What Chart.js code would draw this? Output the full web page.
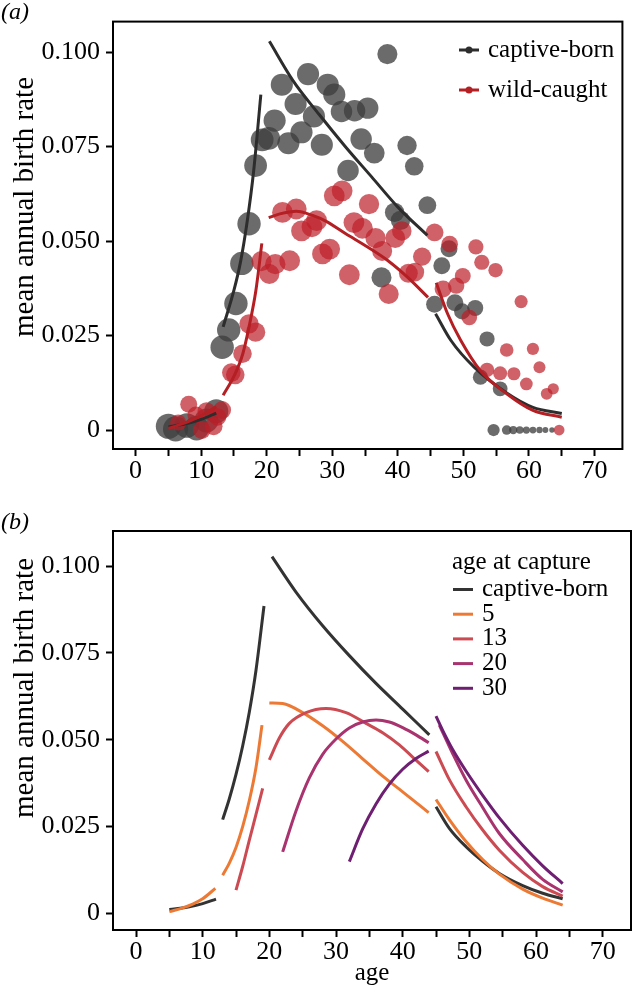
<!DOCTYPE html>
<html>
<head>
<meta charset="utf-8">
<script src="https://cdn.jsdelivr.net/npm/chart.js@4.4.1/dist/chart.umd.min.js"></script>
<style>
  html, body { margin: 0; padding: 0; background: #fff; }
  body { width: 635px; height: 991px; position: relative; overflow: hidden; }
  .panel { position: absolute; left: 0; width: 635px; }
  #boxA { top: 0; height: 495px; }
  #boxB { top: 495px; height: 496px; }
</style>
</head>
<body>
<div class="panel" id="boxA"><canvas id="chartA"></canvas></div>
<div class="panel" id="boxB"><canvas id="chartB"></canvas></div>
<script>
// ---- axes ----
const ageTicks = [0, 5, 10, 15, 20, 25, 30, 35, 40, 45, 50, 55, 60, 65, 70];
const ageLabels = ['0', '', '10', '', '20', '', '30', '', '40', '', '50', '', '60', '', '70'];
const rateTicks = [0, 0.025, 0.05, 0.075, 0.1];
const rateLabels = ['0', '0.025', '0.050', '0.075', '0.100'];

// ---- panel (a): observed rates, bubble size = number of females ----
const capAge = [5.0, 6.1, 7.8, 9.3, 10.8, 12.3,
  13.2, 14.2, 15.3, 16.2, 17.3, 18.3, 19.3, 20.3,
  21.2, 22.3, 23.3, 24.4, 25.3, 26.3, 27.2, 28.4, 29.3, 30.3,
  31.4, 32.4, 33.4, 34.4, 35.4, 36.4,
  37.5, 38.4, 39.5, 40.4, 41.4, 42.5,
  44.5, 45.6, 46.7, 47.8, 48.7, 49.8, 51.8,
  52.6, 53.6, 55.6,
  54.6, 56.6, 57.6, 58.6, 59.6, 60.6, 61.6, 62.5, 63.5];
const capRate = [0.0010, 0.0003, 0.0012, 0.0005, 0.0025, 0.0050,
  0.0219, 0.0265, 0.0335, 0.0441, 0.0546, 0.0700, 0.0768, 0.0772,
  0.0819, 0.0914, 0.0759, 0.0863, 0.0788, 0.0942, 0.0830, 0.0755, 0.0914, 0.0888,
  0.0843, 0.0687, 0.0845, 0.0770, 0.0852, 0.0733,
  0.0404, 0.0995, 0.0576, 0.0555, 0.0753, 0.0698,
  0.0595, 0.0333, 0.0435, 0.0480, 0.0337, 0.0314, 0.0323,
  0.0140, 0.0241, 0.0109,
  0, 0, 0, 0, 0, 0, 0, 0, 0];
const capN = [110, 110, 105, 105, 100, 100,
  95, 95, 95, 95, 95, 90, 90, 90,
  85, 85, 85, 85, 85, 85, 85, 85, 85, 85,
  80, 80, 80, 80, 80, 75,
  70, 70, 65, 65, 65, 60,
  55, 50, 50, 50, 50, 45, 45,
  40, 40, 38,
  26, 16, 12, 10, 9, 8, 7, 6, 5];

const wildAge = [6.5, 8.1, 9.2, 10.1, 10.8, 11.9, 12.5, 13.2,
  14.6, 15.2, 16.3, 17.3, 18.3,
  19.2, 20.4, 21.3, 22.4, 23.5, 24.5, 25.3, 26.9, 27.6, 28.5,
  29.6, 30.3, 31.5, 32.6, 33.3, 34.6, 35.6, 36.6, 37.6, 38.6,
  39.6, 40.6, 41.6, 42.6, 43.7, 45.6, 46.9, 47.9, 48.9, 49.9,
  50.9, 51.9, 52.8, 53.6, 54.9, 55.6, 56.6, 57.7, 58.8, 59.6,
  60.6, 61.6, 62.7, 63.7, 64.6];
const wildRate = [0.0020, 0.0068, 0.0040, 0.0000, 0.0050, 0.0010, 0.0035, 0.0053,
  0.0152, 0.0146, 0.0202, 0.0281, 0.0259,
  0.0447, 0.0413, 0.0439, 0.0576, 0.0448, 0.0585, 0.0527, 0.0538, 0.0554, 0.0466,
  0.0479, 0.0620, 0.0633, 0.0411, 0.0549, 0.0534, 0.0598, 0.0508, 0.0474, 0.0360,
  0.0508, 0.0527, 0.0415, 0.0418, 0.0459, 0.0523, 0.0373, 0.0492, 0.0382, 0.0408,
  0.0298, 0.0485, 0.0444, 0.0159, 0.0423, 0.0150, 0.0212, 0.0149, 0.0340, 0.0122,
  0.0215, 0.0166, 0.0096, 0.0109, 0.0000];
const wildN = [45, 50, 50, 55, 55, 55, 55, 55,
  60, 60, 60, 65, 65,
  70, 70, 72, 75, 75, 75, 75, 75, 75, 75,
  75, 75, 75, 75, 75, 75, 72, 72, 70, 70,
  68, 66, 62, 60, 58, 55, 50, 48, 46, 44,
  42, 40, 40, 36, 36, 34, 32, 30, 30, 28,
  26, 25, 24, 22, 20];

// fitted curves (a); null breaks the line between age classes
const fitCapAge = [5, 8, 10, 12.3, 12.8, 13.35, 15, 16, 17, 18, 19.1, 19.8,
  20.4, 24, 28, 32, 36, 40, 44.5, 45.1,
  45.75, 48.1, 51.6, 56.6, 60.6, 65];
const fitCapRate = [0.0008, 0.0018, 0.0028, 0.0045, null, 0.0273, 0.0370, 0.0445, 0.0550, 0.0685, 0.0888, null,
  0.1029, 0.0925, 0.0835, 0.0750, 0.0670, 0.0590, 0.0515, null,
  0.0308, 0.0237, 0.0167, 0.0098, 0.0060, 0.0044];
const fitWildAge = [5, 8, 10, 12.3, 12.8, 13.35, 15.1, 16.35, 17.35, 18.35, 19.25, 19.8,
  20.3, 22, 24.5, 27, 29, 32, 35.5, 38.5, 41.5, 44.6, 45.2,
  45.85, 47.6, 49.6, 52.6, 56.6, 60.6, 65];
const fitWildRate = [0.0004, 0.0022, 0.0038, 0.0062, null, 0.0092, 0.0146, 0.0202, 0.0277, 0.0370, 0.0494, null,
  0.0562, 0.0572, 0.0579, 0.0568, 0.0553, 0.0520, 0.0483, 0.0448, 0.0404, 0.0351, null,
  0.0390, 0.0307, 0.0237, 0.0157, 0.0096, 0.0052, 0.0034];

// ---- panel (b): predicted rates by age at capture ----
const bCapAge = [5, 8, 10, 12, 12.5, 13, 14, 15, 16, 17, 18, 19.2, 19.8,
  20.4, 24, 28, 32, 36, 40, 44, 44.5,
  45, 47, 49.5, 52, 54.5, 58, 61, 64];
const bCapRate = [0.0011, 0.0019, 0.0028, 0.0041, null, 0.0270, 0.0330, 0.0400, 0.0482, 0.0580, 0.0700, 0.0885, null,
  0.1027, 0.0925, 0.0828, 0.0742, 0.0662, 0.0588, 0.0514, null,
  0.0307, 0.0245, 0.0192, 0.0150, 0.0115, 0.0080, 0.0058, 0.0042];
const b5Age = [5, 7, 8.5, 10, 11.9, 12.4, 13, 14, 15, 16, 17, 18, 18.9, 19.4,
  20, 22, 25, 28, 31, 34, 37, 40, 43.9, 44.4,
  45, 47, 49.5, 52, 54.5, 58, 61, 64];
const b5Rate = [0.0005, 0.0016, 0.0027, 0.0042, 0.0072, null, 0.0110, 0.0145, 0.0190, 0.0250, 0.0325, 0.0420, 0.0542, null,
  0.0606, 0.0604, 0.0578, 0.0540, 0.0495, 0.0445, 0.0395, 0.0350, 0.0290, null,
  0.0328, 0.0270, 0.0207, 0.0155, 0.0113, 0.0070, 0.0044, 0.0024];
const b13Age = [15, 16, 17, 18, 19, 19.5,
  20, 21.5, 23, 25.5, 28.5, 31.5, 34.5, 37, 39.5, 41.5, 43.9, 44.4,
  45, 47, 49.5, 52, 54.5, 58, 61, 64];
const b13Rate = [0.0067, 0.0135, 0.0211, 0.0285, 0.0360, null,
  0.0442, 0.0505, 0.0547, 0.0578, 0.0590, 0.0578, 0.0547, 0.0520, 0.0485, 0.0450, 0.0408, null,
  0.0466, 0.0385, 0.0307, 0.0240, 0.0182, 0.0118, 0.0077, 0.0050];
const b20Age = [22, 24, 26, 28, 30, 32, 34, 36, 38, 40, 42, 43.9, 44.7,
  45.5, 47.5, 49.5, 52, 54.5, 58, 61, 64];
const b20Rate = [0.0177, 0.0295, 0.0390, 0.0458, 0.0502, 0.0534, 0.0551, 0.0557, 0.0551, 0.0535, 0.0514, 0.0491, null,
  0.0542, 0.0460, 0.0384, 0.0305, 0.0230, 0.0155, 0.0098, 0.0062];
const b30Age = [32, 34, 36, 38, 40, 42, 43.9, 44.4,
  45, 46, 47.5, 49.5, 52, 54.5, 58, 61, 64];
const b30Rate = [0.0149, 0.0243, 0.0315, 0.0372, 0.0415, 0.0446, 0.0467, null,
  0.0568, 0.0527, 0.0472, 0.0410, 0.0340, 0.0275, 0.0196, 0.0137, 0.0086];

const SERIF = "'Liberation Serif', 'DejaVu Serif', serif";
Chart.defaults.font.family = SERIF;
Chart.defaults.color = '#000';
Chart.defaults.animation = false;

const toPoints = (xs, ys) => xs.map((x, i) => ({ x: x, y: ys[i] }));
const toBubbles = (xs, ys, ns) => xs.map((x, i) => ({ x: x, y: ys[i], r: 1.2 * Math.sqrt(ns[i]) }));

function curve(label, xs, ys, color, order) {
  return {
    type: 'line',
    label: label,
    data: toPoints(xs, ys),
    borderColor: color,
    backgroundColor: color,
    borderWidth: 3,
    pointRadius: 0,
    spanGaps: false,
    cubicInterpolationMode: 'monotone',
    order: order,
    inLegend: true,
  };
}

/**
 * Frame, panel tag, rotated y title and inset legend
 */
const panelDecor = {
  id: 'panelDecor',
  afterDatasetsDraw(chart, args, opts) {
    const ctx = chart.ctx;
    const a = chart.chartArea;
    ctx.save();
    ctx.strokeStyle = '#000';
    ctx.lineWidth = 2;
    ctx.strokeRect(a.left, a.top, a.right - a.left, a.bottom - a.top);

    ctx.fillStyle = '#000';
    ctx.textAlign = 'left';
    ctx.textBaseline = 'alphabetic';
    ctx.font = 'italic 24px ' + SERIF;
    ctx.fillText(opts.tag, 1, opts.tagY);

    // legend
    const lg = opts.legend;
    ctx.font = '25px ' + SERIF;
    ctx.textBaseline = 'middle';
    if (lg.title) {
      ctx.fillText(lg.title, lg.titleX, lg.titleY);
    }
    const items = chart.data.datasets.filter((d) => d.inLegend);
    items.forEach((d, i) => {
      const y = lg.y0 + i * lg.step;
      ctx.strokeStyle = d.borderColor;
      ctx.lineWidth = 3;
      ctx.beginPath();
      ctx.moveTo(lg.x0, y);
      ctx.lineTo(lg.x1, y);
      ctx.stroke();
      if (lg.dot) {
        ctx.fillStyle = d.borderColor;
        ctx.beginPath();
        ctx.arc((lg.x0 + lg.x1) / 2, y, 3.5, 0, Math.PI * 2);
        ctx.fill();
      }
      ctx.fillStyle = '#000';
      ctx.fillText(d.label, lg.textX, y);
    });

    // y title
    ctx.font = opts.titleSize + 'px ' + SERIF;
    ctx.textAlign = 'center';
    ctx.textBaseline = 'alphabetic';
    ctx.translate(opts.titleX, opts.titleY);
    ctx.rotate(-Math.PI / 2);
    ctx.fillText(opts.yTitle, 0, 0);
    ctx.restore();
  },
};

function makeScales(yMin, yMax, xAxisHeight, xTitle) {
  const tickFont = { family: SERIF, size: 26 };
  const grid = { drawOnChartArea: false, tickLength: 7, tickWidth: 2, tickColor: '#000' };
  const border = { display: true, color: '#000', width: 2 };
  return {
    x: {
      type: 'linear',
      min: -3.45,
      max: 74.25,
      afterBuildTicks: (s) => { s.ticks = ageTicks.map((v) => ({ value: v })); },
      afterFit: (s) => { s.height = xAxisHeight; },
      ticks: {
        autoSkip: false,
        maxRotation: 0,
        padding: 0,
        color: '#000',
        font: tickFont,
        callback: (v, i) => ageLabels[i],
      },
      grid: grid,
      border: border,
      title: xTitle
        ? { display: true, text: xTitle, color: '#000', font: { family: SERIF, size: 25 }, padding: { top: 0, bottom: 3 } }
        : { display: false },
    },
    y: {
      type: 'linear',
      min: yMin,
      max: yMax,
      afterBuildTicks: (s) => { s.ticks = rateTicks.map((v) => ({ value: v })); },
      afterFit: (s) => { s.width = 113; },
      ticks: { padding: 6, color: '#000', font: tickFont, callback: (v, i) => rateLabels[i] },
      grid: grid,
      border: border,
    },
  };
}

// Panel (a)
new Chart(document.getElementById('chartA'), {
  type: 'scatter',
  data: {
    datasets: [
      curve('captive-born', fitCapAge, fitCapRate, '#2d2d2d', 1),
      curve('wild-caught', fitWildAge, fitWildRate, '#b41f24', 0),
      {
        type: 'bubble',
        data: toBubbles(wildAge, wildRate, wildN),
        backgroundColor: 'rgba(190, 30, 40, 0.7)',
        borderWidth: 0,
        order: 2,
      },
      {
        type: 'bubble',
        data: toBubbles(capAge, capRate, capN),
        backgroundColor: 'rgba(60, 60, 60, 0.76)',
        borderWidth: 0,
        order: 3,
      },
    ],
  },
  options: {
    responsive: true,
    maintainAspectRatio: false,
    events: [],
    layout: { padding: { top: 21, right: 4, left: 0, bottom: 0 } },
    scales: makeScales(-0.00502, 0.1081, 46, null),
    plugins: {
      legend: { display: false },
      tooltip: { enabled: false },
      panelDecor: {
        tag: '(a)',
        tagY: 19,
        yTitle: 'mean annual birth rate',
        titleSize: 29,
        titleX: 33,
        titleY: 207,
        legend: { x0: 459, x1: 479, textX: 488, y0: 50, step: 40, dot: true },
      },
    },
  },
  plugins: [panelDecor],
});

// Panel (b)
new Chart(document.getElementById('chartB'), {
  type: 'scatter',
  data: {
    datasets: [
      curve('captive-born', bCapAge, bCapRate, '#333333', 5),
      curve('5', b5Age, b5Rate, '#ec7a35', 4),
      curve('13', b13Age, b13Rate, '#cc4a52', 3),
      curve('20', b20Age, b20Rate, '#a8336e', 2),
      curve('30', b30Age, b30Rate, '#6e1f72', 1),
    ],
  },
  options: {
    responsive: true,
    maintainAspectRatio: false,
    events: [],
    layout: { padding: { top: 36, right: 4, left: 0, bottom: 0 } },
    scales: makeScales(-0.00478, 0.11008, 61, 'age'),
    plugins: {
      legend: { display: false },
      tooltip: { enabled: false },
      panelDecor: {
        tag: '(b)',
        tagY: 34,
        yTitle: 'mean annual birth rate',
        titleSize: 29,
        titleX: 33,
        titleY: 193,
        legend: {
          title: 'age at capture', titleX: 452, titleY: 67,
          x0: 453, x1: 473, textX: 482, y0: 94.5, step: 24.7, dot: false,
        },
      },
    },
  },
  plugins: [panelDecor],
});
</script>
</body>
</html>
